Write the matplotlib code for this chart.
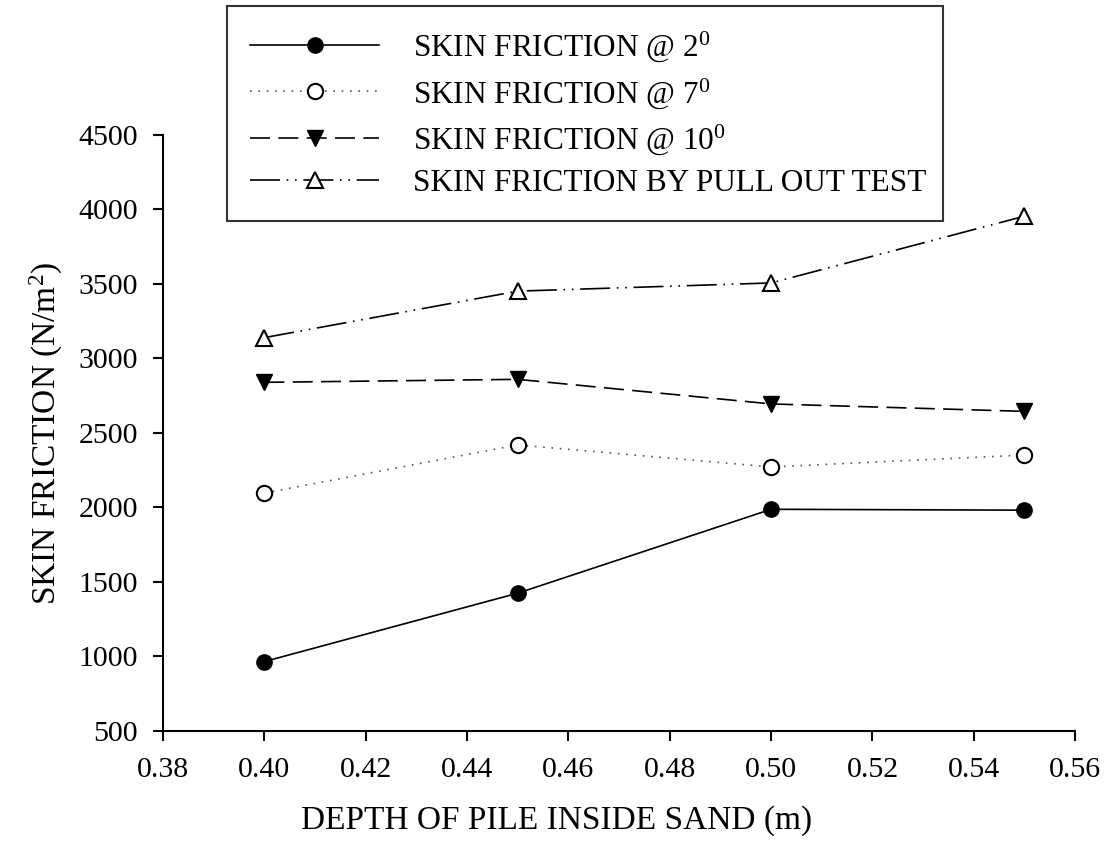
import matplotlib
matplotlib.use("Agg")
import matplotlib.pyplot as plt
import numpy as np

plt.rcParams['font.family'] = ['Liberation Serif', 'DejaVu Serif']
plt.rcParams['mathtext.fontset'] = 'custom'
plt.rcParams['mathtext.rm'] = 'Liberation Serif'
plt.rcParams['mathtext.it'] = 'Liberation Serif'

# data
depth = [0.40, 0.45, 0.50, 0.55]
sf_2deg = [966, 1425, 1988, 1982]
sf_7deg = [2097, 2420, 2272, 2352]
sf_10deg = [2840, 2860, 2695, 2645]
sf_pullout = [3140, 3452, 3507, 3955]

labels = ['SKIN FRICTION @ $\\mathrm{2^{0}}$',
          'SKIN FRICTION @ $\\mathrm{7^{0}}$',
          'SKIN FRICTION @ $\\mathrm{10^{0}}$',
          'SKIN FRICTION BY PULL OUT TEST']

x_ticks = np.arange(0.38, 0.5601, 0.02)
y_ticks = np.arange(500, 4501, 500)

fig = plt.figure(figsize=(11.13, 8.41), dpi=100)
ax = fig.add_axes([0.1465, 0.1308, 0.966 - 0.1465, 0.8395 - 0.1308])

lw = 1.2
ax.plot(depth, sf_2deg, color='black', linestyle='-', linewidth=lw,
        marker='o', markersize=11, markerfacecolor='black', label=labels[0])
ax.plot(depth, sf_7deg, color='#555555', linestyle=(0, (1, 4)), linewidth=lw,
        marker='o', markersize=11, markerfacecolor='white',
        markeredgecolor='black', markeredgewidth=1.5, label=labels[1])
ax.plot(depth, sf_10deg, color='black', linestyle=(0, (12, 5)), linewidth=lw,
        marker='v', markersize=12, markerfacecolor='black', label=labels[2])
ax.plot(depth, sf_pullout, color='black', linestyle=(0, (18, 4, 1, 4, 1, 4)), linewidth=lw,
        marker='^', markersize=12, markerfacecolor='white',
        markeredgecolor='black', markeredgewidth=1.5, label=labels[3])

ax.set_xlim(0.38, 0.56)
ax.set_ylim(500, 4500)
ax.set_xticks(x_ticks)
ax.set_xticklabels(['%.2f' % v for v in x_ticks])
ax.set_yticks(y_ticks)
ax.spines['top'].set_visible(False)
ax.spines['right'].set_visible(False)
ax.spines['left'].set_linewidth(1.5)
ax.spines['bottom'].set_linewidth(1.5)
ax.tick_params(direction='out', length=7, width=1.5, labelsize=21.5)
ax.tick_params(axis='x', pad=12)
ax.tick_params(axis='y', pad=11)

ax.set_xlabel('DEPTH OF PILE INSIDE SAND (m)', fontsize=24)
ax.xaxis.set_label_coords(0.431, -0.125)
ax.set_ylabel('SKIN FRICTION (N/m$\\mathrm{^{2}}$)', fontsize=24, labelpad=10)

leg = ax.legend(loc='upper left',
                bbox_to_anchor=(227 / 1113, 1 - 212 / 841, (943 - 227) / 1113, (212 - 6) / 841),
                bbox_transform=fig.transFigure, mode='expand',
                fontsize=22.5, frameon=True, fancybox=False, edgecolor='black',
                handlelength=4.1, handletextpad=1.1, labelspacing=0.38,
                borderpad=0.75, borderaxespad=0)
leg.get_frame().set_linewidth(1.5)

fig.savefig('out.png', dpi=100)
